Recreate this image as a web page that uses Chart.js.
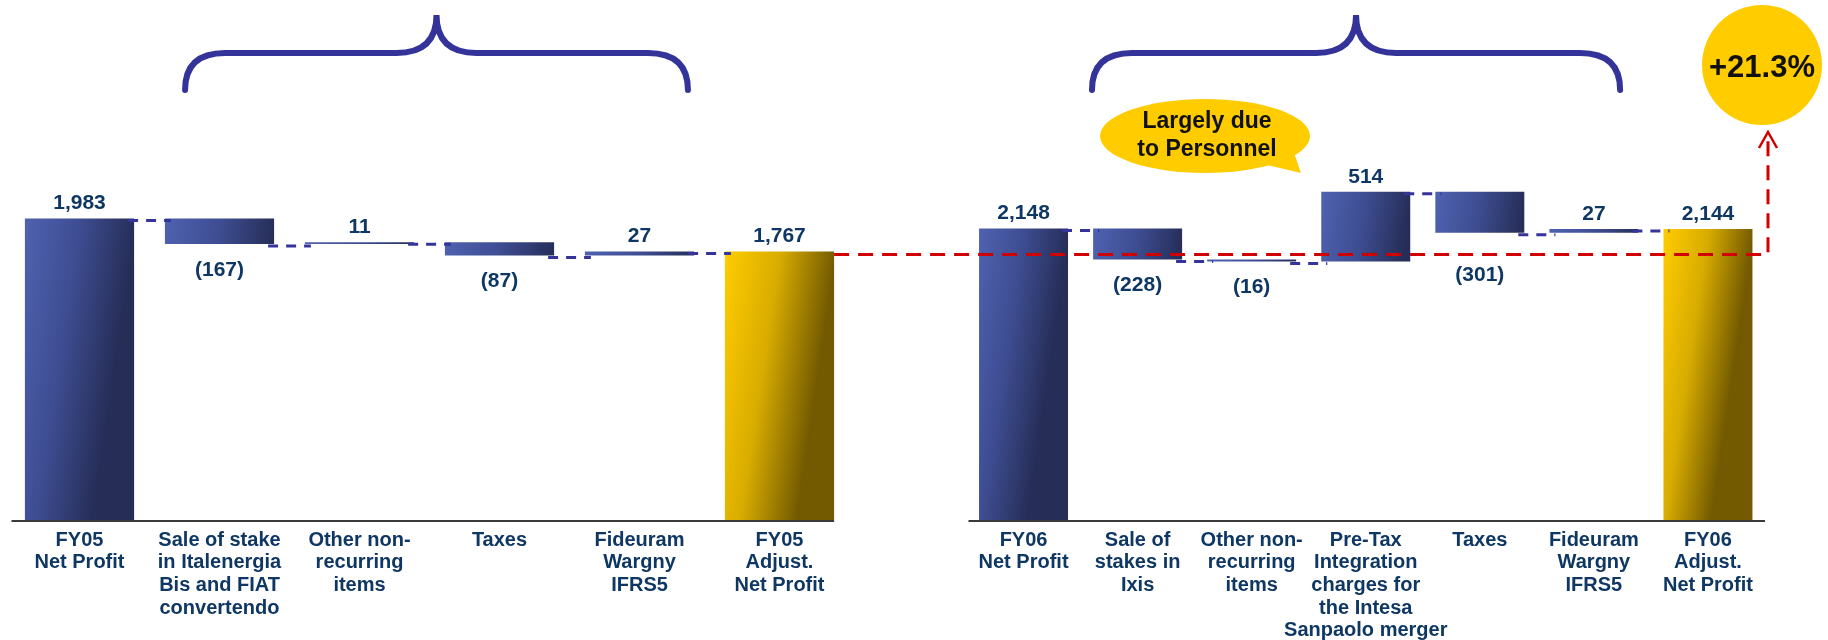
<!DOCTYPE html>
<html>
<head>
<meta charset="utf-8">
<script src="https://cdn.jsdelivr.net/npm/chart.js@4.4.1/dist/chart.umd.min.js"></script>
<style>
  html, body { margin: 0; padding: 0; background: #fff; }
  #wrap { position: relative; width: 1828px; height: 640px; }
  #wrap canvas { position: absolute; left: 0; top: 0; }
</style>
</head>
<body>
<div id="wrap">
  <canvas id="fy05" width="1828" height="640"></canvas>
  <canvas id="fy06" width="1828" height="640"></canvas>
</div>
<script>
const fy05Labels = [
  ['FY05', 'Net Profit'],
  ['Sale of stake', 'in Italenergia', 'Bis and FIAT', 'convertendo'],
  ['Other non-', 'recurring', 'items'],
  ['Taxes'],
  ['Fideuram', 'Wargny', 'IFRS5'],
  ['FY05', 'Adjust.', 'Net Profit']
];
const fy05Values = [1983, -167, 11, -87, 27, 1767];

const fy06Labels = [
  ['FY06', 'Net Profit'],
  ['Sale of', 'stakes in', 'Ixis'],
  ['Other non-', 'recurring', 'items'],
  ['Pre-Tax', 'Integration', 'charges for', 'the Intesa', 'Sanpaolo merger'],
  ['Taxes'],
  ['Fideuram', 'Wargny', 'IFRS5'],
  ['FY06', 'Adjust.', 'Net Profit']
];
const fy06Values = [2148, -228, -16, 514, -301, 27, 2144];

const growthText = '+21.3%';
const calloutLines = ['Largely due', 'to Personnel'];

const FONT = "'Liberation Sans', Arial, sans-serif";
const NAVY_TEXT = '#0f3763';
const BAR_FRAC = 0.78;

// first and last are totals, the rest float on the running sum
function toRanges(values) {
  let run = 0;
  return values.map((v, i) => {
    if (i === 0 || i === values.length - 1) { run = v; return [0, v]; }
    const start = run;
    run += v;
    return [start, run];
  });
}

function fmt(v) {
  const s = Math.abs(v).toLocaleString('en-US');
  return v < 0 ? '(' + s + ')' : s;
}

function barFill(ctx) {
  const chart = ctx.chart;
  const last = chart.data.labels.length - 1;
  const isTotal = ctx.dataIndex === last;
  const stops = isTotal ? ['#ffcc00', '#d8ac00', '#735a00'] : ['#4f62b0', '#3e4d92', '#262e58'];
  if (!chart.chartArea || ctx.type !== 'data' || !ctx.raw) return stops[0];
  const xs = chart.scales.x, ys = chart.scales.y;
  const [a, b] = ctx.raw;
  const cx = xs.getPixelForValue(ctx.dataIndex);
  const w = (xs.getPixelForValue(1) - xs.getPixelForValue(0)) * BAR_FRAC;
  const top = ys.getPixelForValue(Math.max(a, b));
  const g = chart.ctx.createLinearGradient(cx - w / 2, top, cx + w / 2, top + w * 0.15);
  g.addColorStop(0, stops[0]);
  g.addColorStop(0.5, stops[1]);
  g.addColorStop(1, stops[2]);
  return g;
}

// y of the red reference line (left adjusted total)
function refLineY() {
  return leftChart.scales.y.getPixelForValue(fy05Values[fy05Values.length - 1]) + 3;
}

const waterfallLabels = {
  id: 'waterfallLabels',
  afterDatasetsDraw(chart, args, opts) {
    const ctx = chart.ctx;
    const values = chart.data.datasets[0].values;
    const ranges = chart.data.datasets[0].data;
    const meta = chart.getDatasetMeta(0);
    const ys = chart.scales.y;
    ctx.save();
    // axis line
    const lastBar = meta.data[meta.data.length - 1];
    const axisEnd = opts.axisToBar ? lastBar.x + lastBar.width / 2 : chart.chartArea.right;
    ctx.strokeStyle = '#3a3a3a';
    ctx.lineWidth = 2;
    ctx.beginPath();
    ctx.moveTo(chart.chartArea.left + 2, chart.chartArea.bottom + 1);
    ctx.lineTo(axisEnd, chart.chartArea.bottom + 1);
    ctx.stroke();
    // dashed connectors at the running level
    ctx.strokeStyle = '#34349a';
    ctx.lineWidth = 3;
    ctx.setLineDash([10, 8]);
    for (let i = 0; i < ranges.length - 1; i++) {
      const bar = meta.data[i], next = meta.data[i + 1];
      const y = ys.getPixelForValue(ranges[i][1]) + 2;
      ctx.beginPath();
      ctx.moveTo(bar.x + bar.width / 2 - 6, y);
      ctx.lineTo(next.x - next.width / 2 + 6, y);
      ctx.stroke();
    }
    ctx.setLineDash([]);
    // value labels
    ctx.fillStyle = NAVY_TEXT;
    ctx.font = 'bold 21px ' + FONT;
    ctx.textAlign = 'center';
    ctx.textBaseline = 'middle';
    const avoid = opts.avoidRefLine ? refLineY() + 21 : -Infinity;
    values.forEach((v, i) => {
      const [a, b] = ranges[i];
      const x = meta.data[i].x;
      if (v >= 0) {
        ctx.fillText(fmt(v), x, ys.getPixelForValue(Math.max(a, b)) - 15);
      } else {
        ctx.fillText(fmt(v), x, Math.max(ys.getPixelForValue(Math.min(a, b)) + 26, avoid));
      }
    });
    ctx.restore();
  }
};

function drawBrace(ctx, x1, x2, yTip, yMid, yEnd) {
  const mid = (x1 + x2) / 2;
  const r = 40;
  ctx.beginPath();
  ctx.moveTo(x1, yEnd);
  ctx.quadraticCurveTo(x1, yMid, x1 + r, yMid);
  ctx.lineTo(mid - r, yMid);
  ctx.quadraticCurveTo(mid, yMid, mid, yTip);
  ctx.quadraticCurveTo(mid, yMid, mid + r, yMid);
  ctx.lineTo(x2 - r, yMid);
  ctx.quadraticCurveTo(x2, yMid, x2, yEnd);
  ctx.stroke();
}

const braceOverlay = {
  id: 'braceOverlay',
  afterDraw(chart, args, opts) {
    const ctx = chart.ctx;
    const xs = chart.scales.x;
    const step = xs.getPixelForValue(1) - xs.getPixelForValue(0);
    const x0 = xs.getPixelForValue(0);
    ctx.save();
    ctx.strokeStyle = '#333399';
    ctx.lineWidth = 6;
    ctx.lineCap = 'round';
    drawBrace(ctx, x0 + opts.from * step, x0 + opts.to * step, 15, 53, 90);
    ctx.restore();
  }
};

function makeChart(id, labels, values, yMax, padLeft, padRight, braceRange, labelOpts, extra) {
  return new Chart(document.getElementById(id), {
    type: 'bar',
    data: {
      labels: labels,
      datasets: [{
        data: toRanges(values),
        values: values,
        backgroundColor: barFill,
        borderWidth: 0,
        categoryPercentage: 1,
        barPercentage: BAR_FRAC
      }]
    },
    options: {
      responsive: false,
      animation: false,
      events: [],
      devicePixelRatio: 1,
      layout: { padding: { top: 140, bottom: 0, left: padLeft, right: padRight } },
      plugins: {
        legend: { display: false },
        tooltip: { enabled: false },
        braceOverlay: { from: braceRange[0], to: braceRange[1] },
        waterfallLabels: labelOpts
      },
      scales: {
        x: {
          grid: { display: false, drawTicks: false },
          border: { display: false },
          ticks: {
            autoSkip: false,
            maxRotation: 0,
            minRotation: 0,
            padding: 9,
            color: NAVY_TEXT,
            font: { family: FONT, size: 20, weight: 'bold', lineHeight: 1.13 }
          },
          afterFit: (s) => { s.height = 120; }
        },
        y: { display: false, min: 0, max: yMax }
      }
    },
    plugins: [waterfallLabels, braceOverlay].concat(extra || [])
  });
}

const leftChart = makeChart('fy05', fy05Labels, fy05Values, 2500, 9.5, 978.5, [0.754, 4.346],
  { axisToBar: true, avoidRefLine: false });

// red reference line, growth bubble and callout (drawn on the top canvas)
const growthOverlay = {
  id: 'growthOverlay',
  afterDraw(chart) {
    const ctx = chart.ctx;
    const leftMeta = leftChart.getDatasetMeta(0);
    const leftLast = leftMeta.data[leftMeta.data.length - 1];
    const y = refLineY();
    const xStart = leftLast.x + leftLast.width / 2;
    const xEnd = chart.chartArea.right + 3;
    const arrowTip = 132;

    ctx.save();
    ctx.strokeStyle = '#d00000';
    ctx.lineWidth = 3;
    ctx.setLineDash([15, 9]);
    ctx.beginPath();
    ctx.moveTo(xStart, y);
    ctx.lineTo(xEnd, y);
    ctx.lineTo(xEnd, arrowTip + 3);
    ctx.stroke();
    ctx.setLineDash([]);
    ctx.lineWidth = 2.5;
    ctx.beginPath();
    ctx.moveTo(xEnd - 9, arrowTip + 16);
    ctx.lineTo(xEnd, arrowTip);
    ctx.lineTo(xEnd + 9, arrowTip + 16);
    ctx.stroke();

    // growth circle
    ctx.fillStyle = '#ffcc00';
    ctx.beginPath();
    ctx.arc(xEnd - 6, 65, 60, 0, Math.PI * 2);
    ctx.fill();
    ctx.fillStyle = '#111';
    ctx.font = 'bold 31px ' + FONT;
    ctx.textAlign = 'center';
    ctx.textBaseline = 'middle';
    ctx.fillText(growthText, xEnd - 6, 68);

    // callout bubble
    const cx = 1205, cy = 136;
    ctx.fillStyle = '#ffcc00';
    ctx.beginPath();
    ctx.ellipse(cx, cy, 105, 37, 0, 0, Math.PI * 2);
    ctx.fill();
    ctx.beginPath();
    ctx.moveTo(cx + 58, cy + 28);
    ctx.lineTo(cx + 96, cy + 37);
    ctx.lineTo(cx + 88, cy + 14);
    ctx.closePath();
    ctx.fill();
    ctx.fillStyle = '#111';
    ctx.font = 'bold 23px ' + FONT;
    ctx.fillText(calloutLines[0], cx + 2, cy - 14);
    ctx.fillText(calloutLines[1], cx + 2, cy + 14);
    ctx.restore();
  }
};

const rightChart = makeChart('fy06', fy06Labels, fy06Values, 2800, 966.5, 63, [0.6, 5.23],
  { axisToBar: false, avoidRefLine: true }, [growthOverlay]);
</script>
</body>
</html>
